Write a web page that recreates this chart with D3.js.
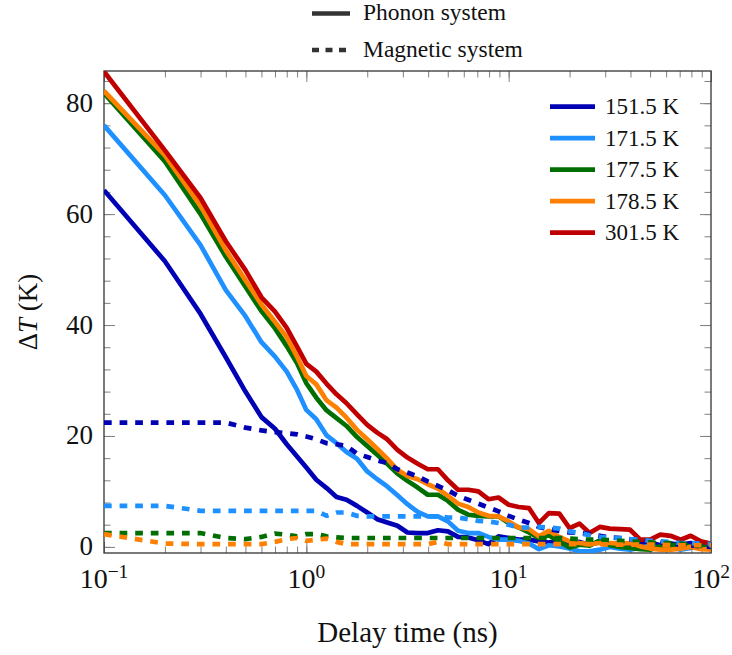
<!doctype html>
<html>
<head>
<meta charset="utf-8" />
<title>Delta T vs delay time</title>
<script src="https://cdnjs.cloudflare.com/ajax/libs/d3/7.8.5/d3.min.js"></script>
<style>
  body { margin:0; background:#fff; }
</style>
</head>
<body>
<div id="chart"></div>
<script>
(function() {

/*delay times (ns) at which the curves were sampled*/
var delay_ns = [0.1, 0.2, 0.3, 0.4, 0.5, 0.6, 0.7, 0.8, 0.9, 1.0,
  1.12, 1.26, 1.41, 1.58, 1.78, 2.0, 2.24, 2.51, 2.82, 3.16,
  3.55, 3.98, 4.47, 5.01, 5.62, 6.31, 7.08, 7.94, 8.91, 10.0,
  11.2, 12.6, 14.1, 15.8, 17.8, 20.0, 22.4, 25.1, 28.2, 31.6,
  35.5, 39.8, 44.7, 50.1, 56.2, 63.1, 70.8, 79.4, 89.1, 100];

/*phonon system, Delta T in K*/
var phonon_151 = [64.3, 51.5, 42.0, 34.2, 28.0, 23.4, 21.3, 18.5, 16.3, 14.3,
  12.1, 10.6, 9.0, 8.5, 7.4, 6.2, 5.0, 4.4, 3.8, 2.6,
  2.5, 2.5, 3.0, 2.8, 1.8, 1.7, 1.2, 0.5, 1.9, 1.6,
  1.3, 1.3, 1.0, 0.8, 1.2, 0.5, 0.9, 0.4, 0.9, 0.5,
  0.7, 0.2, 0.5, 0.8, 0.3, 0.6, 0.4, 0.7, 0.3, 0.5];
var phonon_171 = [76.0, 63.4, 54.4, 46.3, 41.6, 36.9, 34.3, 31.6, 28.3, 24.7,
  23.0, 20.1, 18.7, 17.1, 15.9, 13.6, 12.2, 10.9, 9.3, 7.7,
  6.3, 5.5, 5.5, 4.6, 2.9, 2.5, 2.5, 1.8, 1.3, 1.3,
  1.1, 0.6, -0.4, 0.3, 0.1, -0.3, -0.8, -0.8, -0.5, 0.0,
  -0.3, -0.5, -0.2, 0.3, -0.3, 0.0, -0.5, -0.2, 0.0, -0.3];
var phonon_177 = [81.8, 69.5, 60.0, 52.3, 46.9, 42.5, 39.4, 36.2, 33.1, 29.5,
  26.9, 24.6, 23.2, 21.8, 19.8, 18.2, 16.6, 15.0, 13.2, 11.9,
  10.7, 9.4, 9.4, 8.3, 6.7, 5.8, 5.6, 5.5, 5.5, 4.3,
  3.5, 2.6, 1.6, 2.1, 1.0, -0.1, 0.4, 0.2, 1.2, 0.3,
  0.0, -0.2, -0.4, -0.5, 0.1, 0.2, 0.6, 0.0, -0.2, 0.4];
var phonon_178 = [82.2, 70.6, 61.5, 53.5, 48.1, 43.7, 40.6, 37.8, 34.3, 30.8,
  29.3, 26.4, 25.1, 23.3, 21.1, 19.4, 17.7, 15.9, 13.9, 12.8,
  12.2, 11.3, 10.5, 9.2, 7.8, 7.2, 6.2, 5.6, 5.5, 4.6,
  3.5, 3.2, 1.9, 2.9, 1.8, 1.0, 0.7, 0.5, 0.7, 0.7,
  0.6, 0.7, 0.1, -0.3, -0.5, -0.5, -0.3, 0.0, -0.4, -0.5];
var phonon_301 = [85.7, 71.5, 62.9, 55.1, 49.9, 45.0, 42.4, 39.5, 36.1, 33.0,
  31.6, 29.4, 27.5, 25.9, 23.9, 22.0, 20.6, 19.4, 17.5, 16.1,
  15.0, 14.0, 14.0, 12.0, 10.3, 10.3, 10.0, 8.6, 8.9, 7.6,
  7.2, 7.0, 4.3, 6.1, 6.0, 3.4, 4.2, 2.5, 3.6, 3.3,
  3.2, 3.1, 1.3, 1.3, 2.2, 2.0, 1.3, 2.0, 1.0, 0.6];

/*magnetic system, Delta T in K*/
var magnetic_151 = [22.4, 22.4, 22.4, 22.4, 21.5, 21.0, 20.7, 20.5, 20.3, 19.9,
  19.4, 18.7, 18.5, 18.2, 16.8, 16.2, 15.6, 15.1, 14.0, 13.4,
  12.7, 11.8, 11.0, 10.2, 9.2, 8.5, 7.8, 7.1, 6.4, 5.6,
  4.9, 4.3, 3.6, 3.2, 2.9, 2.6, 2.5, 2.3, 2.0, 1.7,
  1.6, 1.4, 1.3, 1.0, 0.8, 0.6, 0.4, 0.3, 0.1, 0.0];
var magnetic_171 = [7.4, 7.4, 6.5, 6.5, 6.5, 6.5, 6.5, 6.5, 6.5, 6.5,
  6.5, 5.6, 6.2, 6.2, 5.6, 5.5, 5.5, 5.5, 5.5, 5.5,
  5.5, 5.5, 5.5, 5.3, 5.3, 5.0, 4.7, 4.6, 4.3, 4.0,
  3.5, 3.5, 3.6, 3.5, 3.3, 2.8, 2.5, 2.1, 1.8, 1.6,
  1.6, 1.4, 1.3, 1.1, 1.0, 0.9, 0.7, 0.7, 0.6, 0.5];
var magnetic_177 = [2.5, 2.5, 2.5, 1.6, 1.4, 1.8, 2.4, 2.2, 1.9, 2.3,
  2.3, 1.9, 1.7, 1.6, 1.6, 1.6, 1.6, 1.6, 1.6, 1.6,
  1.6, 1.6, 1.6, 1.6, 1.6, 1.6, 1.6, 1.6, 1.6, 1.6,
  1.6, 1.6, 1.6, 1.6, 1.6, 1.5, 1.4, 1.3, 1.3, 1.2,
  1.1, 1.0, 0.9, 0.8, 0.7, 0.7, 0.6, 0.4, 0.2, 0.1];
var magnetic_178 = [2.3, 0.6, 0.5, 0.5, 0.5, 0.5, 0.9, 1.4, 1.6, 1.1,
  1.3, 1.5, 0.9, 0.5, 0.5, 0.5, 0.5, 0.5, 0.5, 0.5,
  0.5, 0.5, 0.9, 0.5, 0.5, 0.5, 0.5, 0.5, 0.5, 0.5,
  0.5, 0.5, 0.5, 0.5, 0.5, 0.5, 0.5, 0.5, 0.5, 0.4,
  0.4, 0.4, 0.4, 0.4, 0.4, 0.3, 0.3, 0.3, 0.3, 0.3];

var series_labels = ["151.5 K", "171.5 K", "177.5 K", "178.5 K", "301.5 K"];
var series_colors = ["#0000b4", "#1e90ff", "#006e00", "#ff8000", "#c00000"];
var phonon_series = [phonon_151, phonon_171, phonon_177, phonon_178, phonon_301];
var magnetic_series = [magnetic_151, magnetic_171, magnetic_177, magnetic_178];

var x_ticks = [0.1, 1, 10, 100];
var x_tick_exps = ["\u22121", "0", "1", "2"];
var y_ticks = [0, 20, 40, 60, 80];
var y_minor_ticks = [0, 4, 8, 12, 16, 20, 24, 28, 32, 36, 40, 44, 48, 52, 56, 60, 64, 68, 72, 76, 80, 84];

var system_labels = ["Phonon system", "Magnetic system"];

/*globals*/
var g = {};
g.width = 732;
g.height = 655;
g.left = 104;
g.right = 711;
g.top = 71;
g.bottom = 553;
g.font = "'Liberation Serif'";
g.dash = "7.7,7.9";
g.lw = 4.7;

function main() {
  g.svg = d3.select("#chart").append("svg")
    .attr("width", g.width)
    .attr("height", g.height);

  g.x = d3.scaleLog().domain([0.1, 100]).range([g.left, g.right]);
  g.y = d3.scaleLinear().domain([-1.1, 85.8]).range([g.bottom, g.top]);

  draw_axes();
  draw_lines();
  draw_legends();
}

/*plain text, no transforms*/
function add_text(parent, x, y, str, anchor, size) {
  return parent.append("text")
    .attr("x", x)
    .attr("y", y)
    .attr("text-anchor", anchor)
    .attr("font-family", g.font)
    .attr("font-size", size)
    .attr("fill", "#111")
    .text(str);
}

function draw_axes() {
  var {svg, x, y} = g;
  var axes = svg.append("g").attr("class", "axes");

  /*ticks point inwards on all four sides*/
  var x_minor = x.ticks();
  var defs = [
    [d3.axisBottom(x).tickValues(x_minor), "translate(0," + g.bottom + ")", -6.5],
    [d3.axisBottom(x).tickValues(x_ticks), "translate(0," + g.bottom + ")", -11],
    [d3.axisTop(x).tickValues(x_minor), "translate(0," + g.top + ")", -6.5],
    [d3.axisTop(x).tickValues(x_ticks), "translate(0," + g.top + ")", -11],
    [d3.axisLeft(y).tickValues(y_minor_ticks), "translate(" + g.left + ",0)", -6.5],
    [d3.axisLeft(y).tickValues(y_ticks), "translate(" + g.left + ",0)", -11],
    [d3.axisRight(y).tickValues(y_minor_ticks), "translate(" + g.right + ",0)", -6.5],
    [d3.axisRight(y).tickValues(y_ticks), "translate(" + g.right + ",0)", -11]
  ];
  defs.forEach(function(d) {
    var ax = axes.append("g").attr("transform", d[1])
      .call(d[0].tickSize(d[2]).tickFormat(""));
    ax.select(".domain").remove();
    ax.attr("font-family", null).attr("font-size", null);
    ax.selectAll("line").attr("stroke", "#808080").attr("stroke-width", 1);
  });

  /*frame*/
  axes.append("rect")
    .attr("x", g.left).attr("y", g.top)
    .attr("width", g.right - g.left).attr("height", g.bottom - g.top)
    .attr("fill", "none").attr("stroke", "#333").attr("stroke-width", 1.3);

  /*x tick labels: 10 with exponent*/
  x_ticks.forEach(function(t, i) {
    var label = add_text(axes, x(t), 588, "", "middle", 28);
    label.append("tspan").text("10");
    label.append("tspan").attr("dy", -10.5).attr("font-size", 19.5).text(x_tick_exps[i]);
  });

  /*y tick labels*/
  y_ticks.forEach(function(t) {
    add_text(axes, 93, y(t) + 8.5, String(t), "end", 27);
  });

  /*axis titles*/
  add_text(axes, (g.left + g.right) / 2, 642, "Delay time (ns)", "middle", 29);

  var ylab = add_text(axes, 0, 0, "", "middle", 27)
    .attr("transform", "translate(37," + ((g.top + g.bottom) / 2) + ") rotate(-90)");
  ylab.append("tspan").text("\u0394");
  ylab.append("tspan").attr("font-style", "italic").text("T");
  ylab.append("tspan").text(" (K)");
}

function draw_lines() {
  var {svg, x, y} = g;

  svg.append("clipPath").attr("id", "plot-clip")
    .append("rect")
    .attr("x", g.left).attr("y", g.top)
    .attr("width", g.right - g.left).attr("height", g.bottom - g.top);

  var line = d3.line()
    .x(function(d, i) { return x(delay_ns[i]); })
    .y(function(d) { return y(d); });

  var plot = svg.append("g").attr("clip-path", "url(#plot-clip)");

  plot.selectAll("path.phonon")
    .data(phonon_series)
    .join("path")
    .attr("class", "phonon")
    .attr("d", line)
    .attr("fill", "none")
    .attr("stroke", function(d, i) { return series_colors[i]; })
    .attr("stroke-width", g.lw)
    .attr("stroke-linejoin", "round");

  plot.selectAll("path.magnetic")
    .data(magnetic_series)
    .join("path")
    .attr("class", "magnetic")
    .attr("d", line)
    .attr("fill", "none")
    .attr("stroke", function(d, i) { return series_colors[i]; })
    .attr("stroke-width", g.lw)
    .attr("stroke-dasharray", g.dash);
}

function draw_legends() {
  var {svg} = g;

  /*legend above the plot: line styles*/
  var top_leg = svg.append("g");
  [13.5, 50].forEach(function(ly, i) {
    top_leg.append("line")
      .attr("x1", 312).attr("x2", 350).attr("y1", ly).attr("y2", ly)
      .attr("stroke", "#333").attr("stroke-width", g.lw)
      .attr("stroke-dasharray", i === 1 ? "7,6.5" : null);
    add_text(top_leg, 363, ly + 6.8, system_labels[i], "start", 23.5);
  });

  /*legend inside the plot: temperatures*/
  var leg = svg.append("g");
  series_labels.forEach(function(lbl, i) {
    var ly = 106.7 + i * 31.5;
    leg.append("line")
      .attr("x1", 550).attr("x2", 595).attr("y1", ly).attr("y2", ly)
      .attr("stroke", series_colors[i]).attr("stroke-width", g.lw);
    add_text(leg, 605, ly + 7.5, lbl, "start", 23);
  });
}

main();

})();
</script>
</body>
</html>
